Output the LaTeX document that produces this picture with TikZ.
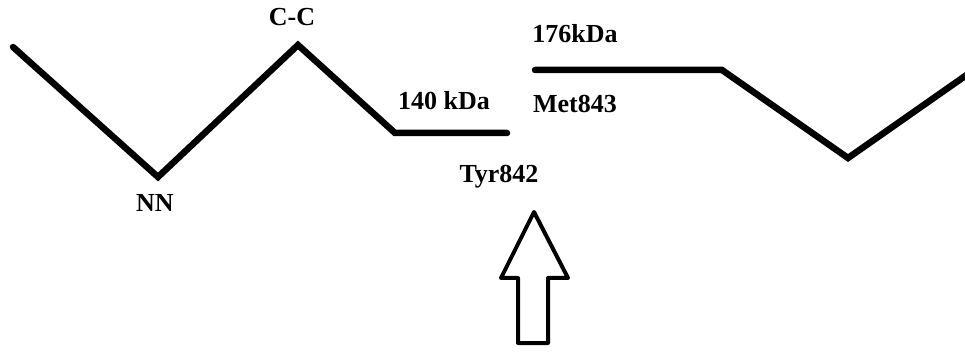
\documentclass[tikz,border=0pt]{standalone}
\usepackage{fontspec}
\setmainfont{Liberation Serif}
\begin{document}
\begin{tikzpicture}[x=1pt,y=-1pt,
  chain/.style={line width=6.5pt, line cap=round, line join=miter},
  lbl/.style={font=\fontsize{26}{30}\selectfont\bfseries, inner sep=0pt, anchor=base},
  bigarrow/.style={line width=4pt, line join=round}]
\useasboundingbox (0,0) rectangle (965,352);
% left chain
\coordinate (a0) at (13,47);
\coordinate (nn) at (158,177);
\coordinate (cc) at (298,45);
\coordinate (b1) at (395,133);
\coordinate (e1) at (507,133);
% right chain
\coordinate (s2) at (535,70);
\coordinate (c2) at (722,70);
\coordinate (v2) at (848,158);
\coordinate (e2) at (968,74);
\draw[chain] (a0) -- (nn) -- (cc) -- (b1) -- (e1);
\draw[chain] (s2) -- (c2) -- (v2) -- (e2);
% labels
\node[lbl] (lNN) at (155,212) {NN};
\node[lbl] (lCC) at (292,26) {C-C};
\node[lbl] (l140) at (444,110) {140 kDa};
\node[lbl] (l176) at (575,43) {176kDa};
\node[lbl] (lMet) at (575,113) {Met843};
\node[lbl] (lTyr) at (499,183) {Tyr842};
% hollow arrow
\coordinate (tip) at (534,212);
\coordinate (hr) at (568,278);
\coordinate (sr) at (548,278);
\coordinate (br) at (548,343);
\coordinate (bl) at (518,343);
\coordinate (sl) at (518,278);
\coordinate (hl) at (501,278);
\draw[bigarrow] (tip) -- (hr) -- (sr) -- (br) -- (bl) -- (sl) -- (hl) -- cycle;
\end{tikzpicture}
\end{document}
